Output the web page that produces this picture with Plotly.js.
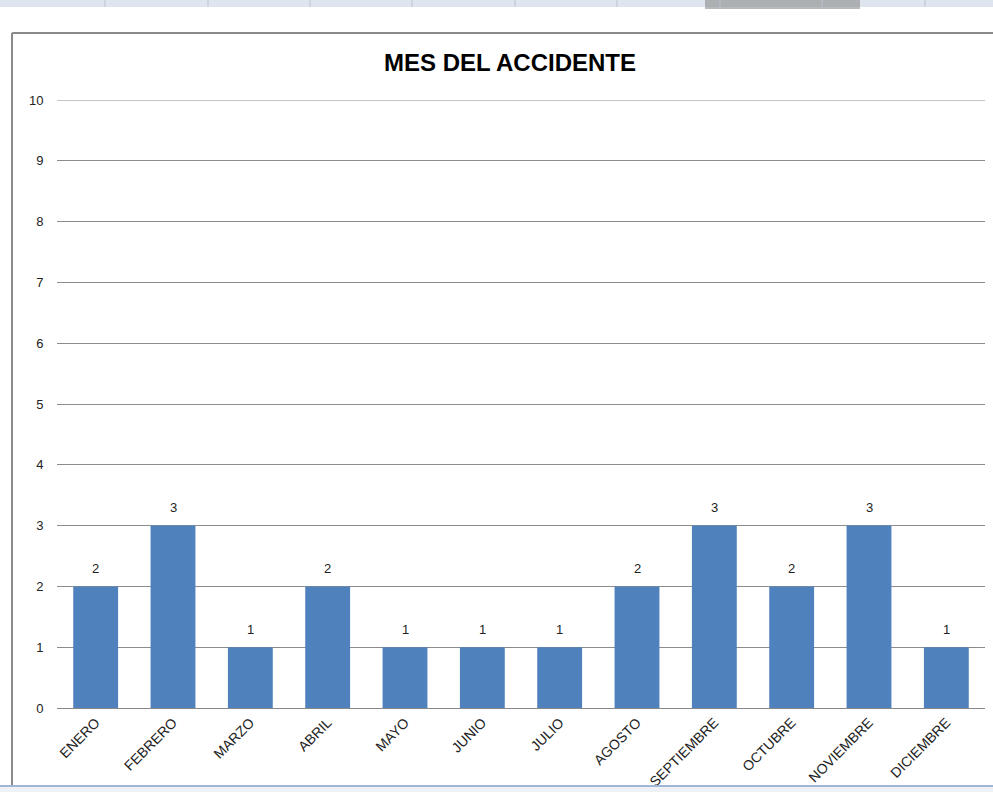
<!DOCTYPE html>
<html>
<head>
<meta charset="utf-8">
<script src="https://cdn.plot.ly/plotly-3.0.1.min.js"></script>
<style>html,body{margin:0;padding:0;background:#fff;}#chart{width:993px;height:792px;}</style>
</head>
<body>
<div id="chart"></div>
<script>
const months = ["ENERO","FEBRERO","MARZO","ABRIL","MAYO","JUNIO","JULIO","AGOSTO","SEPTIEMBRE","OCTUBRE","NOVIEMBRE","DICIEMBRE"];
const accidents = [2,3,1,2,1,1,1,2,3,2,3,1];
const yTicks = [0,1,2,3,4,5,6,7,8,9,10];

const W = 993, H = 792;
const L = 57, R = 985, T = 100, B = 708;
const px = x => (x - L) / (R - L);
const py = y => (B - y) / (B - T);
const FONT = 'Liberation Sans, Arial, sans-serif';
const yMax = yTicks[yTicks.length - 1];

const trace = {
  type: 'bar',
  x: months,
  y: accidents,
  marker: {color: '#4F81BD', line: {width: 0}},
  width: 0.58,
  hoverinfo: 'x+y'
};

const labels = months.map((m, i) => ({
  x: m, y: accidents[i], xref: 'x', yref: 'y',
  text: String(accidents[i]), showarrow: false,
  yshift: 18, font: {family: FONT, size: 13, color: '#222'}
}));

const shapes = [
  {type:'rect', xref:'paper', yref:'paper', x0:px(-5), x1:px(1000), y0:py(0), y1:py(7), fillcolor:'#dfe5ee', line:{width:0}, layer:'below'},
  {type:'rect', xref:'paper', yref:'paper', x0:px(705), x1:px(860), y0:py(0), y1:py(9), fillcolor:'#8c8c8c', line:{width:0}, layer:'below', opacity:0.6},
  {type:'rect', xref:'paper', yref:'paper', x0:px(-5), x1:px(1000), y0:py(800), y1:py(786), fillcolor:'#eef1f6', line:{width:0}, layer:'below'},
  {type:'line', xref:'paper', yref:'paper', x0:px(-5), x1:px(1000), y0:py(786), y1:py(786), line:{color:'#9fb6d6', width:2}},
  {type:'line', xref:'paper', yref:'paper', x0:px(12), x1:px(12), y0:py(33), y1:py(785), line:{color:'#8a8a8a', width:2}},
  {type:'line', xref:'paper', yref:'paper', x0:px(12), x1:px(1000), y0:py(33), y1:py(33), line:{color:'#8a8a8a', width:2}},
  // top gridline (at the range edge Plotly omits it)
  {type:'line', xref:'paper', yref:'y', x0:0, x1:1, y0:yMax, y1:yMax, line:{color:'#8c8c8c', width:1}, layer:'below'}
];
[105,208,310,412,515,617,720,822,925].forEach(x => shapes.push(
  {type:'line', xref:'paper', yref:'paper', x0:px(x), x1:px(x), y0:py(0), y1:py(7), line:{color:'#b8c3d2', width:1}}
));

const layout = {
  width: W, height: H,
  margin: {l: L, r: W - R, t: T, b: H - B, pad: 0},
  paper_bgcolor: '#ffffff',
  plot_bgcolor: '#ffffff',
  showlegend: false,
  title: {
    text: '<b>MES DEL ACCIDENTE</b>',
    font: {family: FONT, size: 24, color: '#000'},
    x: (510 - L) / (R - L), xanchor: 'center', xref: 'paper',
    y: 1 - 63 / H, yanchor: 'middle'
  },
  xaxis: {
    type: 'category',
    tickangle: -45,
    tickfont: {family: FONT, size: 14, color: '#222'},
    showline: true, linecolor: '#888', linewidth: 1,
    ticks: '', showgrid: false, zeroline: false,
    fixedrange: true
  },
  yaxis: {
    range: [0, yMax],
    tickvals: yTicks,
    ticktext: yTicks.map(String),
    tickfont: {family: FONT, size: 13, color: '#222'},
    showgrid: true, gridcolor: '#8c8c8c', gridwidth: 1,
    zeroline: true, zerolinecolor: '#8c8c8c', zerolinewidth: 1,
    showline: false,
    ticks: 'outside', ticklen: 10, tickcolor: 'rgba(0,0,0,0)',
    fixedrange: true
  },
  annotations: labels,
  shapes: shapes
};

Plotly.newPlot('chart', [trace], layout, {displayModeBar: false, staticPlot: true});
</script>
</body>
</html>
